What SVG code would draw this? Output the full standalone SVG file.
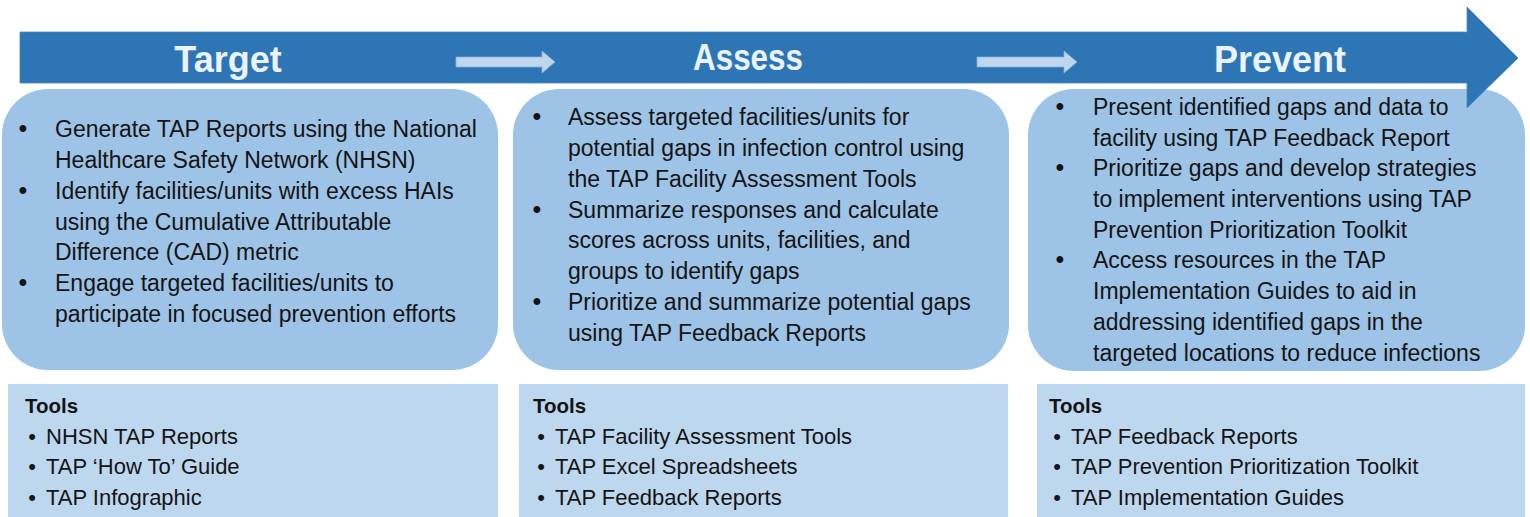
<svg xmlns="http://www.w3.org/2000/svg" width="1530" height="517" viewBox="0 0 1530 517">
  <style>
    .stage { fill: #9dc3e6; }
    .tools { fill: #bdd7ee; }
    .flow { fill: #2e75b6; stroke: #4a88c4; stroke-width: 0.8; }
    .link { fill: #bdd7ee; stroke: #8aaed3; stroke-width: 0.8; }
    .head { font-family: "Liberation Sans", Arial, sans-serif; font-weight: bold; font-size: 36px; fill: #eaf2fa; text-anchor: middle; }
    .body { font-family: "Liberation Sans", Arial, sans-serif; font-size: 23px; fill: #141414; }
    .bul { font-family: "Liberation Sans", Arial, sans-serif; font-size: 25px; fill: #141414; text-anchor: middle; }
    .tbul { font-family: "Liberation Sans", Arial, sans-serif; font-size: 22px; fill: #141414; text-anchor: middle; }
    .ttl { font-family: "Liberation Sans", Arial, sans-serif; font-weight: bold; font-size: 20.5px; fill: #141414; }
    .item { font-family: "Liberation Sans", Arial, sans-serif; font-size: 22px; fill: #141414; }
  </style>
  <rect width="1530" height="517" fill="#ffffff"/>

  <!-- stage panels (drawn beneath the main flow arrow) -->
  <rect class="stage" x="2" y="89" width="496" height="281" rx="46" ry="46"/>
  <rect class="stage" x="513" y="89" width="496" height="281" rx="46" ry="46"/>
  <rect class="stage" x="1028" y="89" width="497" height="282" rx="46" ry="46"/>

  <!-- main flow arrow -->
  <g id="flow-arrow">
    <path class="flow" d="M20,32 H1467 V7 L1518,58 L1467,108 V83 H20 Z"/>
  </g>

  <!-- links between the stages -->
  <g id="connectors">
    <path class="link" d="M456,57 H542 V51 L555,62 L542,73 V67 H456 Z"/>
    <path class="link" d="M977,57 H1064 V51 L1077,62 L1064,73 V67 H977 Z"/>
  </g>

  <g id="stage-target">
    <text class="head" x="228" y="72">Target</text>
    <text class="bul" x="23" y="137">•</text>
    <text class="bul" x="23" y="199">•</text>
    <text class="bul" x="23" y="291">•</text>
    <text class="body" x="55" y="137">Generate TAP Reports using the National</text>
    <text class="body" x="55" y="168">Healthcare Safety Network (NHSN)</text>
    <text class="body" x="55" y="199">Identify facilities/units with excess HAIs</text>
    <text class="body" x="55" y="230">using the Cumulative Attributable</text>
    <text class="body" x="55" y="260">Difference (CAD) metric</text>
    <text class="body" x="55" y="291">Engage targeted facilities/units to</text>
    <text class="body" x="55" y="322">participate in focused prevention efforts</text>
  </g>

  <g id="stage-assess">
    <text class="head" x="748" y="70" textLength="110" lengthAdjust="spacingAndGlyphs">Assess</text>
    <text class="bul" x="537" y="125">•</text>
    <text class="bul" x="537" y="218">•</text>
    <text class="bul" x="537" y="310">•</text>
    <text class="body" x="568" y="125">Assess targeted facilities/units for</text>
    <text class="body" x="568" y="156">potential gaps in infection control using</text>
    <text class="body" x="568" y="187">the TAP Facility Assessment Tools</text>
    <text class="body" x="568" y="218">Summarize responses and calculate</text>
    <text class="body" x="568" y="248">scores across units, facilities, and</text>
    <text class="body" x="568" y="279">groups to identify gaps</text>
    <text class="body" x="568" y="310">Prioritize and summarize potential gaps</text>
    <text class="body" x="568" y="341">using TAP Feedback Reports</text>
  </g>

  <g id="stage-prevent">
    <text class="head" x="1280" y="72">Prevent</text>
    <text class="bul" x="1060" y="115">•</text>
    <text class="bul" x="1060" y="176">•</text>
    <text class="bul" x="1060" y="268">•</text>
    <text class="body" x="1093" y="115">Present identified gaps and data to</text>
    <text class="body" x="1093" y="146">facility using TAP Feedback Report</text>
    <text class="body" x="1093" y="176">Prioritize gaps and develop strategies</text>
    <text class="body" x="1093" y="207">to implement interventions using TAP</text>
    <text class="body" x="1093" y="238">Prevention Prioritization Toolkit</text>
    <text class="body" x="1093" y="268">Access resources in the TAP</text>
    <text class="body" x="1093" y="299">Implementation Guides to aid in</text>
    <text class="body" x="1093" y="330">addressing identified gaps in the</text>
    <text class="body" x="1093" y="361">targeted locations to reduce infections</text>
  </g>

  <g id="tools-target">
    <rect class="tools" x="8" y="384" width="490" height="140"/>
    <text class="ttl" x="25" y="413">Tools</text>
    <text class="tbul" x="32" y="444">•</text>
    <text class="tbul" x="32" y="474">•</text>
    <text class="tbul" x="32" y="505">•</text>
    <text class="item" x="46" y="444">NHSN TAP Reports</text>
    <text class="item" x="46" y="474">TAP ‘How To’ Guide</text>
    <text class="item" x="46" y="505">TAP Infographic</text>
  </g>

  <g id="tools-assess">
    <rect class="tools" x="519" y="384" width="489" height="140"/>
    <text class="ttl" x="533" y="413">Tools</text>
    <text class="tbul" x="541" y="444">•</text>
    <text class="tbul" x="541" y="474">•</text>
    <text class="tbul" x="541" y="505">•</text>
    <text class="item" x="555" y="444">TAP Facility Assessment Tools</text>
    <text class="item" x="555" y="474">TAP Excel Spreadsheets</text>
    <text class="item" x="555" y="505">TAP Feedback Reports</text>
  </g>

  <g id="tools-prevent">
    <rect class="tools" x="1037" y="384" width="488" height="140"/>
    <text class="ttl" x="1049" y="413">Tools</text>
    <text class="tbul" x="1057" y="444">•</text>
    <text class="tbul" x="1057" y="474">•</text>
    <text class="tbul" x="1057" y="505">•</text>
    <text class="item" x="1071" y="444">TAP Feedback Reports</text>
    <text class="item" x="1071" y="474">TAP Prevention Prioritization Toolkit</text>
    <text class="item" x="1071" y="505">TAP Implementation Guides</text>
  </g>
</svg>
